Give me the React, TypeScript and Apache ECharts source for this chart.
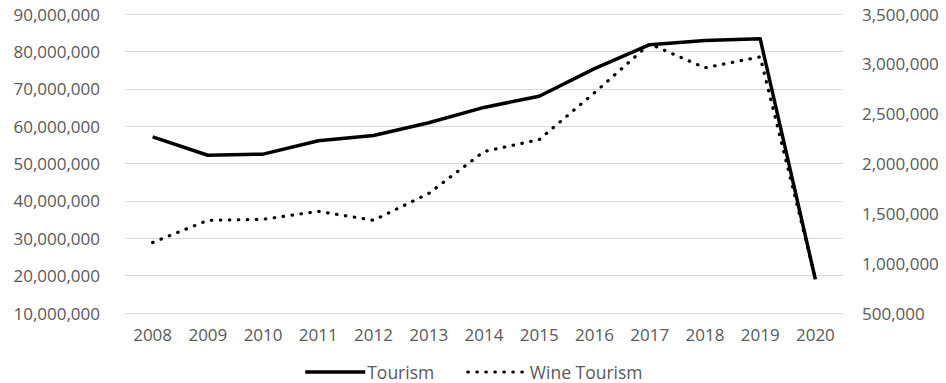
import React, { useEffect, useRef } from "react";
import * as echarts from "echarts";

const years = ["2008", "2009", "2010", "2011", "2012", "2013", "2014", "2015", "2016", "2017", "2018", "2019", "2020"];
const tourism = [57100000, 52200000, 52500000, 56100000, 57500000, 60900000, 65000000, 68000000, 75400000, 81800000, 82900000, 83400000, 19000000];
const wineTourism = [1207000, 1430000, 1440000, 1520000, 1430000, 1700000, 2120000, 2240000, 2710000, 3200000, 2960000, 3070000, 847000];

const labelFont = { fontFamily: "Open Sans", fontSize: 17, color: "#595959" };
const fmt = (v: number) => v.toLocaleString("en-US");

export default function App() {
  const ref = useRef<HTMLDivElement>(null);
  useEffect(() => {
    const chart = echarts.init(ref.current!, undefined, { renderer: "svg" });
    chart.setOption({
      animation: false,
      grid: { left: 125, right: 103, top: 14, bottom: 70 },
      legend: {
        top: 363,
        left: "center",
        padding: 0,
        itemWidth: 60,
        itemHeight: 18,
        itemGap: 32,
        itemStyle: { color: "rgba(0,0,0,0)", borderColor: "rgba(0,0,0,0)", borderWidth: 0, opacity: 0 },
        textStyle: { fontFamily: "Open Sans", fontSize: 17.5, lineHeight: 18, color: "#595959", padding: [0, 0, 0, -3] },
        data: [
          { name: "Tourism", lineStyle: { width: 3.5 } },
          { name: "Wine Tourism", lineStyle: { width: 3.2 } },
        ],
      },
      xAxis: {
        type: "category",
        data: years,
        boundaryGap: true,
        axisLine: { show: true, lineStyle: { color: "#d9d9d9", width: 1 } },
        axisTick: { show: false },
        axisLabel: { ...labelFont, margin: 13 },
      },
      yAxis: [
        {
          type: "value",
          min: 10000000,
          max: 90000000,
          interval: 10000000,
          axisLine: { show: false },
          axisTick: { show: false },
          splitLine: { lineStyle: { color: "#d9d9d9", width: 1 } },
          axisLabel: { ...labelFont, margin: 25, formatter: fmt },
        },
        {
          type: "value",
          min: 500000,
          max: 3500000,
          interval: 500000,
          axisLine: { show: false },
          axisTick: { show: false },
          splitLine: { show: false },
          axisLabel: { ...labelFont, margin: 19, formatter: fmt },
        },
      ],
      series: [
        {
          name: "Tourism",
          type: "line",
          yAxisIndex: 0,
          data: tourism,
          symbol: "none",
          lineStyle: { color: "#000000", width: 3.5, join: "round" },
          itemStyle: { color: "#000000" },
        },
        {
          name: "Wine Tourism",
          type: "line",
          yAxisIndex: 1,
          data: wineTourism,
          symbol: "none",
          lineStyle: { color: "#000000", width: 3.2, type: [0.5, 8.5], cap: "round" },
          itemStyle: { color: "#000000" },
        },
      ],
    });
    return () => chart.dispose();
  }, []);
  return <div ref={ref} style={{ width: 946, height: 383, position: "absolute", left: 0, top: 0 }} />;
}
